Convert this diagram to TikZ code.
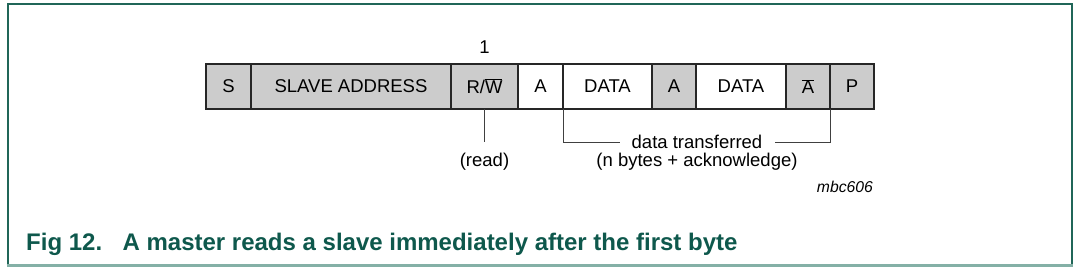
\documentclass[tikz,border=0pt]{standalone}
\usepackage{fontspec}
\setmainfont{Liberation Sans}
\usepackage{xcolor}
\usepackage{tikz}
\usetikzlibrary{positioning}

\definecolor{figteal}{RGB}{14,88,76}
\definecolor{frameteal}{RGB}{32,102,88}
\definecolor{framelow}{RGB}{132,176,166}
\definecolor{fieldgrey}{RGB}{204,204,204}

\begin{document}
\begin{tikzpicture}[
  x=1pt, y=-1pt,
  field/.style={rectangle, draw=black!85, line width=1.3pt, fill=white, outer sep=0pt,
    minimum height=45pt, inner sep=0pt, font=\fontsize{18.5}{22}\selectfont},
  field_grey/.style={field, fill=fieldgrey},
  note_label/.style={font=\fontsize{18.5}{22}\selectfont, inner sep=0pt},
  note_line/.style={draw=black!75, line width=0.9pt},
  caption_text/.style={anchor=base west, inner sep=0pt, text=figteal,
    font=\fontsize{24}{28}\selectfont\bfseries}
]
  \useasboundingbox (0,0) rectangle (1080,270);

  % Frame
  \draw[frameteal, line width=2pt] (7.5,266) -- (7.5,4.5) -- (1072,4.5) -- (1072,266);
  \draw[framelow, line width=3pt] (6.5,265.5) -- (1073,265.5);

  % Byte sequence
  \node[field_grey, minimum width=45pt, anchor=west] (s) at (206,86.5) {S};
  \node[field_grey, minimum width=200pt, right=0pt of s] (addr) {SLAVE ADDRESS};
  \node[field_grey, minimum width=67pt, right=0pt of addr] (rw) {R/$\overline{\mbox{W}}$};
  \node[field, minimum width=45pt, right=0pt of rw] (a1) {A};
  \node[field, minimum width=89pt, right=0pt of a1] (d1) {DATA};
  \node[field_grey, minimum width=44pt, right=0pt of d1] (a2) {A};
  \node[field, minimum width=90pt, right=0pt of a2] (d2) {DATA};
  \node[field_grey, minimum width=44pt, right=0pt of d2] (na) {$\overline{\mbox{A}}$};
  \node[field_grey, minimum width=44pt, right=0pt of na] (p) {P};

  \node[note_label, above=10pt of rw] (one) {1};

  % Annotations below
  \node[note_label, inner xsep=12pt] (dt) at (697,142) {data transferred};
  \node[note_label] (nb) at (697,162) {(n bytes + acknowledge)};
  \node[note_label] (rd) at (rw.south |- nb) {(read)};
  \coordinate (rdend) at (rw.south |- dt.west);

  \draw[note_line] (rw.south) -- (rdend);
  \draw[note_line] (d1.south west) |- (dt.west);
  \draw[note_line] (na.south east) |- (dt.east);

  \node[note_label, anchor=east, font=\fontsize{15.7}{18}\selectfont\itshape] (code) at (873,187) {mbc606};

  % Caption
  \node[caption_text] (cap) at (26,250) {Fig 12.\hspace{0.85em}A master reads a slave immediately after the first byte};

\end{tikzpicture}
\end{document}
